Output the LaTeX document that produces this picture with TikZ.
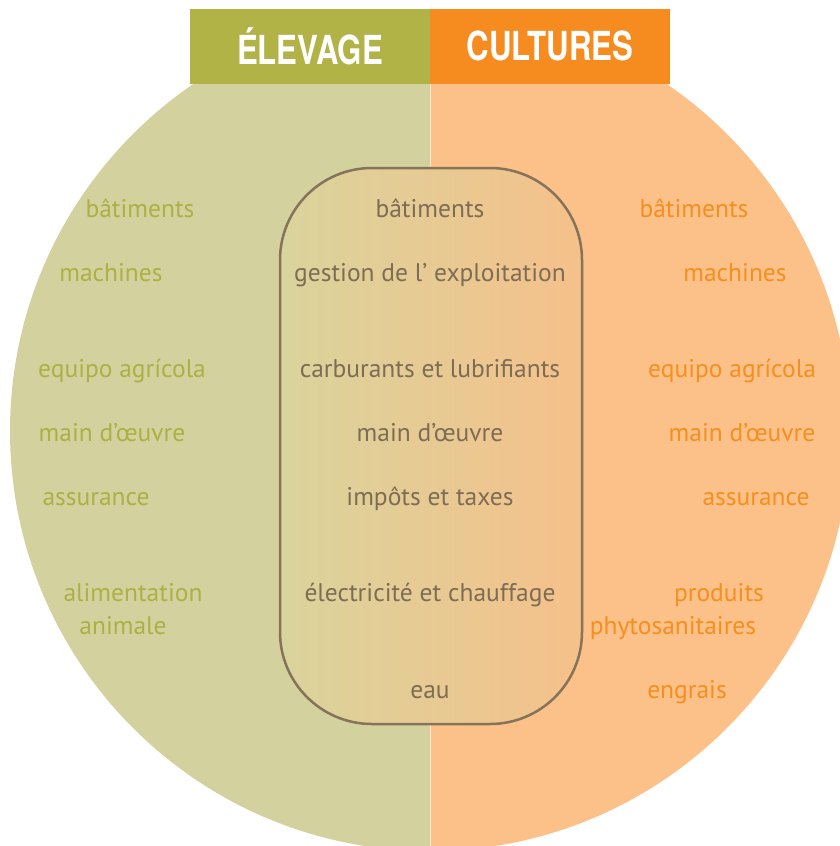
\documentclass[tikz,border=0pt]{standalone}
\usepackage{fontspec}
\usepackage{graphicx}
\setmainfont{PT Sans}
\newfontfamily\hdrfont{TeX Gyre Heros}
\definecolor{leftbg}{HTML}{D3D29E}
\definecolor{rightbg}{HTML}{FBC189}
\definecolor{hdrgreen}{HTML}{B1B347}
\definecolor{hdrorange}{HTML}{F68B1F}
\definecolor{lefttxt}{HTML}{ADB044}
\definecolor{righttxt}{HTML}{F68F1E}
\definecolor{midtxt}{HTML}{7D6D55}
\definecolor{midline}{HTML}{85735A}
\definecolor{midleft}{HTML}{D9D49C}
\definecolor{midright}{HTML}{F6C08A}
\begin{document}
\begin{tikzpicture}[x=1pt,y=-1pt,
  lt/.style={text=lefttxt,font=\fontsize{25.5}{30}\selectfont,inner sep=0pt,anchor=base},
  rt/.style={text=righttxt,font=\fontsize{25.5}{30}\selectfont,inner sep=0pt,anchor=base},
  mt/.style={text=midtxt,font=\fontsize{25.5}{30}\selectfont,inner sep=0pt,anchor=base},
  hdr/.style={text=white,font=\hdrfont\bfseries\fontsize{40}{44}\selectfont,inner sep=0pt}]
\useasboundingbox (0,0) rectangle (840,846);
\begin{scope}
\clip (0,0) rectangle (430,846);
\fill[leftbg] (430,431) circle[radius=420pt];
\end{scope}
\begin{scope}
\clip (430,0) rectangle (840,846);
\fill[rightbg] (430,431) circle[radius=420pt];
\end{scope}
\draw[white,opacity=0.6,line width=1pt] (430,84) -- (430,846);
\fill[hdrgreen] (190,9) rectangle (430,84);
\fill[hdrorange] (430,9) rectangle (670,84);
\node[hdr] (helev) at (310,46) {\scalebox{0.78}[1]{ÉLEVAGE}};
\node[hdr] (hcult) at (550,46) {\scalebox{0.78}[1]{CULTURES}};
\draw[midline,line width=2.5pt,rounded corners=92pt,left color=midleft,right color=midright] (280,168) rectangle (582,724);
% middle texts
\node[mt] (m1) at (430,217) {bâtiments};
\node[mt] (m2) at (430,281) {gestion de l’ exploitation};
\node[mt] (m3) at (430,377) {carburants et lubrifiants};
\node[mt] (m4) at (430,441) {main d’œuvre};
\node[mt] (m5) at (430,505) {impôts et taxes};
\node[mt] (m6) at (430,601) {électricité et chauffage};
\node[mt] (m7) at (430,698) {eau};
% left texts
\node[lt] (l1) at (140,217) {bâtiments};
\node[lt] (l2) at (111,281) {machines};
\node[lt] (l3) at (122,377) {equipo agrícola};
\node[lt] (l4) at (112,441) {main d’œuvre};
\node[lt] (l5) at (96,505) {assurance};
\node[lt] (l6) at (133,601) {alimentation};
\node[lt] (l7) at (123,634) {animale};
% right texts
\node[rt] (r1) at (694,217) {bâtiments};
\node[rt] (r2) at (735,281) {machines};
\node[rt] (r3) at (732,377) {equipo agrícola};
\node[rt] (r4) at (742,441) {main d’œuvre};
\node[rt] (r5) at (756,505) {assurance};
\node[rt] (r6) at (719,601) {produits};
\node[rt] (r7) at (673,634) {phytosanitaires};
\node[rt] (r8) at (687,698) {engrais};
\end{tikzpicture}
\end{document}
